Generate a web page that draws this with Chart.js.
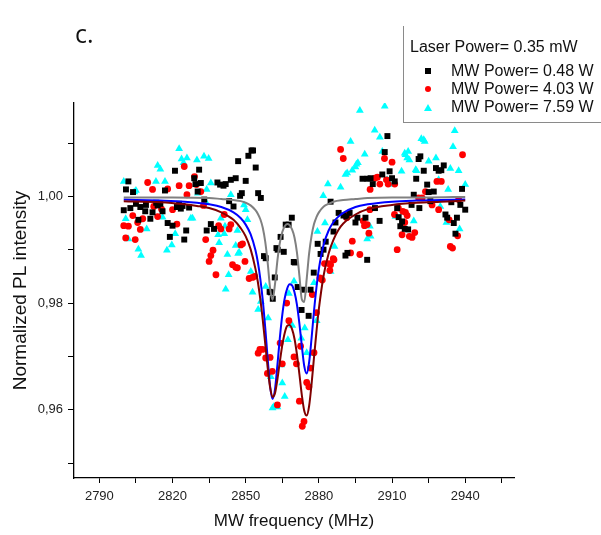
<!DOCTYPE html>
<html><head><meta charset="utf-8">
<script src="https://cdn.jsdelivr.net/npm/chart.js@4.4.0/dist/chart.umd.min.js"></script>
<style>
html,body{margin:0;padding:0;background:#fff;overflow:hidden;}
#wrap{position:relative;width:601px;height:535px;overflow:hidden;}
#panel{position:absolute;left:75px;top:19px;font:25px "Open Sans",sans-serif;color:#111;line-height:28px;}
#legend{position:absolute;left:403px;top:26px;width:260px;height:96px;border-left:1px solid #8a8a8a;border-bottom:1px solid #8a8a8a;font:16px "Liberation Sans",Arial,sans-serif;color:#111;}
.lt{position:absolute;left:6px;white-space:nowrap;line-height:18px;}
.li{position:absolute;left:47px;white-space:nowrap;line-height:18px;}
.mk{position:absolute;}
</style></head>
<body>
<div id="wrap">
<canvas id="c" width="601" height="535"></canvas>
<div id="panel">c.</div>
<div id="legend">
  <div class="lt" style="top:12px">Laser Power= 0.35 mW</div>
  <div class="mk" style="left:21px;top:42px;width:6px;height:6px;background:#000"></div>
  <div class="li" style="top:36px">MW Power= 0.48 W</div>
  <div class="mk" style="left:21px;top:60px;width:6px;height:6px;border-radius:50%;background:#f00"></div>
  <div class="li" style="top:54px">MW Power= 4.03 W</div>
  <div class="mk" style="left:20px;top:78px;width:0;height:0;border-left:4px solid transparent;border-right:4px solid transparent;border-bottom:7px solid #0ff"></div>
  <div class="li" style="top:72px">MW Power= 7.59 W</div>
</div>
</div>
<script>
// ---- Data ----
const blackFreq = [2800.0,2800.9,2801.9,2802.7,2803.8,2805.0,2806.0,2806.8,2808.8,2809.1,2810.9,2811.8,2813.3,2813.9,2815.0,2815.9,2816.9,2818.0,2818.9,2820.0,2821.0,2821.8,2822.7,2823.4,2824.1,2824.8,2825.6,2826.8,2828.9,2829.4,2830.3,2830.9,2831.6,2833.0,2834.0,2835.7,2837.0,2838.4,2839.5,2840.9,2841.8,2843.2,2843.9,2845.0,2845.9,2846.9,2847.7,2848.4,2850.0,2851.1,2852.4,2853.0,2854.1,2855.1,2856.2,2857.5,2858.2,2859.8,2860.3,2861.1,2861.9,2862.6,2863.1,2864.3,2865.6,2866.4,2867.6,2868.9,2869.7,2870.1,2871.3,2872.9,2873.8,2875.8,2876.6,2877.9,2879.5,2880.7,2881.9,2882.8,2884.8,2886.0,2886.8,2888.1,2890.1,2890.9,2891.3,2891.7,2892.6,2895.0,2895.8,2897.9,2899.1,2899.9,2899.8,2901.2,2902.1,2903.0,2904.9,2906.0,2907.0,2908.1,2909.0,2910.0,2911.1,2912.1,2912.7,2913.4,2914.1,2915.2,2916.6,2918.0,2918.9,2919.9,2920.9,2921.2,2921.6,2923.0,2924.4,2925.0,2925.7,2927.1,2928.0,2929.1,2930.2,2931.2,2931.9,2932.6,2934.3,2935.3,2936.0,2936.6,2938.0,2938.7,2940.0];
const blackVal = [0.9974,1.0013,1.0028,0.9978,1.0008,0.9986,0.9956,0.9980,0.9972,0.9984,0.9958,0.9970,0.9988,0.9983,0.9986,0.9972,1.0011,0.9950,0.9924,0.9945,1.0048,0.9980,0.9986,0.9977,0.9982,0.9919,0.9936,0.9979,1.0034,1.0023,1.0009,1.0050,1.0025,0.9994,0.9936,0.9948,0.9939,1.0026,1.0022,1.0020,1.0023,0.9991,1.0031,0.9981,1.0034,1.0066,1.0001,1.0006,1.0029,1.0076,1.0086,1.0086,1.0054,1.0006,0.9997,0.9888,0.9884,0.9821,0.9820,0.9808,0.9848,0.9903,0.9900,0.9924,0.9896,0.9947,0.9947,0.9960,0.9877,0.9876,0.9830,0.9787,0.9825,0.9776,0.9825,0.9857,0.9911,0.9892,0.9900,0.9915,0.9990,0.9934,0.9951,0.9969,0.9964,0.9889,0.9962,0.9894,0.9969,0.9951,0.9960,1.0033,0.9960,1.0033,0.9881,1.0034,1.0023,0.9978,0.9954,1.0041,1.0083,1.0113,1.0047,1.0034,1.0028,0.9978,0.9961,0.9944,0.9953,0.9939,0.9938,0.9984,1.0003,1.0033,1.0070,0.9978,1.0075,1.0048,1.0022,1.0008,0.9991,1.0009,1.0053,1.0048,1.0049,1.0058,0.9966,0.9960,0.9989,0.9950,0.9930,0.9960,0.9984,1.0014,0.9975];

const redFreq = [2800.0,2800.8,2801.9,2803.7,2804.7,2805.7,2806.8,2807.8,2809.8,2811.8,2812.3,2813.9,2815.5,2818.0,2820.0,2821.8,2822.7,2824.8,2825.9,2826.8,2829.0,2829.8,2831.6,2832.7,2833.6,2835.0,2835.7,2836.6,2837.8,2838.9,2839.8,2841.2,2843.2,2843.9,2844.6,2845.9,2846.6,2848.0,2848.7,2849.7,2851.4,2852.8,2853.7,2855.1,2855.8,2856.9,2858.2,2858.9,2860.0,2860.9,2863.0,2864.1,2865.0,2866.8,2867.7,2869.8,2870.8,2872.0,2872.5,2873.2,2873.9,2875.0,2875.9,2876.6,2877.3,2878.0,2879.0,2880.4,2880.7,2881.4,2882.3,2884.1,2884.5,2884.8,2885.9,2886.2,2888.9,2890.0,2891.4,2891.9,2893.0,2893.7,2896.8,2898.2,2898.7,2899.8,2900.5,2901.0,2900.9,2903.0,2904.0,2905.0,2906.9,2907.7,2908.4,2910.0,2911.0,2911.1,2912.1,2912.6,2914.1,2914.4,2915.2,2915.5,2916.2,2917.1,2918.2,2919.3,2920.9,2922.3,2923.7,2926.4,2928.4,2929.1,2930.2,2933.9,2933.4,2934.8,2936.9,2937.3,2938.9];
const redVal = [0.9945,0.9922,0.9944,0.9964,0.9919,0.9951,0.9938,0.9958,1.0026,1.0013,0.9981,0.9962,0.9976,1.0014,0.9975,0.9948,1.0020,1.0056,1.0003,1.0020,1.0037,1.0022,1.0009,0.9983,0.9919,0.9878,0.9889,0.9899,0.9853,0.9945,0.9939,0.9966,0.9939,0.9947,0.9872,0.9867,0.9866,0.9909,0.9911,0.9878,0.9846,0.9848,0.9850,0.9706,0.9713,0.9713,0.9697,0.9668,0.9698,0.9672,0.9609,0.9725,0.9686,0.9800,0.9767,0.9699,0.9686,0.9616,0.9719,0.9569,0.9578,0.9651,0.9643,0.9678,0.9816,0.9707,0.9782,0.9847,0.9846,0.9843,0.9874,0.9874,0.9861,0.9872,0.9883,0.9881,1.0088,1.0071,0.9960,0.9967,0.9894,0.9916,0.9891,0.9954,0.9945,0.9947,0.9931,1.0013,0.9975,1.0034,1.0036,1.0023,1.0071,1.0031,1.0023,1.0064,0.9966,1.0023,0.9900,0.9978,0.9928,0.9972,0.9951,0.9970,0.9964,0.9925,0.9923,0.9932,0.9997,0.9997,1.0009,0.9984,1.0028,0.9975,1.0028,0.9906,0.9956,0.9903,0.9926,0.9994,1.0078];

const cyanFreq = [2800.0,2800.8,2801.9,2804.3,2805.0,2806.0,2807.1,2809.4,2813.2,2813.9,2815.0,2815.9,2816.9,2817.7,2819.7,2821.1,2822.7,2823.7,2824.5,2825.9,2827.5,2828.2,2830.0,2830.4,2832.9,2834.0,2834.8,2835.7,2833.7,2839.1,2838.7,2839.8,2841.2,2841.8,2841.5,2842.5,2843.0,2843.9,2845.9,2846.6,2846.9,2847.3,2849.3,2850.0,2850.7,2852.1,2852.8,2855.1,2856.2,2858.2,2859.2,2860.3,2861.0,2861.6,2863.0,2864.6,2865.0,2866.0,2867.3,2867.7,2869.1,2869.8,2872.8,2874.2,2875.0,2875.5,2877.3,2878.0,2879.1,2879.4,2881.8,2882.5,2883.7,2884.8,2886.4,2888.9,2890.9,2891.6,2893.0,2893.7,2895.0,2895.4,2896.0,2896.8,2898.8,2899.8,2900.9,2901.2,2902.9,2905.0,2906.0,2907.0,2908.0,2909.3,2911.4,2913.9,2915.2,2915.5,2916.2,2916.6,2917.1,2918.9,2919.7,2920.0,2922.0,2923.0,2923.4,2925.0,2928.0,2929.1,2929.8,2932.3,2933.0,2933.9,2935.0,2935.7,2937.3,2937.7,2940.0];
const cyanVal = [1.0028,0.9958,0.9920,1.0008,1.0011,0.9901,0.9889,0.9939,1.0028,1.0058,1.0051,0.9961,1.0028,0.9899,0.9909,0.9930,1.0089,1.0070,1.0063,1.0072,0.9959,0.9959,1.0068,1.0006,1.0075,1.0013,1.0071,1.0025,0.9989,0.9913,0.9928,0.9959,0.9930,0.9826,0.9944,0.9891,0.9853,1.0003,0.9908,0.9936,0.9893,0.9895,0.9984,0.9975,0.9956,0.9859,0.9820,0.9788,0.9803,0.9831,0.9772,0.9662,0.9603,0.9606,0.9605,0.9684,0.9650,0.9625,0.9731,0.9818,0.9758,0.9841,0.9734,0.9753,0.9707,0.9650,0.9705,0.9838,0.9767,0.9934,1.0001,0.9950,1.0023,0.9859,0.9906,1.0017,1.0041,1.0044,1.0103,1.0049,1.0055,1.0060,1.0063,1.0161,1.0079,0.9920,0.9944,0.9925,1.0124,1.0111,1.0084,1.0169,1.0031,1.0022,0.9962,1.0047,1.0081,1.0078,1.0072,1.0084,1.0068,0.9954,1.0050,1.0048,1.0108,1.0106,1.0103,1.0066,1.0072,1.0031,0.9981,0.9951,1.0013,1.0052,1.0093,1.0123,1.0048,0.9939,1.0022];

// fitted curves
const grayFitFreq = [2800,2820,2835,2840,2845,2848,2850,2852,2854,2855,2856,2857,2858,2859,2860,2861,2862,2863,2864,2865,2866,2867,2868,2869,2870,2871,2872,2873,2874,2875,2876,2877,2878,2879,2880,2882,2884,2886,2890,2895,2900,2910,2925,2940];
const grayFitVal = [0.9998,0.9998,0.9997,0.9995,0.9993,0.9991,0.9988,0.9983,0.9974,0.9967,0.9957,0.9941,0.9915,0.9876,0.9828,0.9806,0.9835,0.9880,0.9913,0.9933,0.9944,0.9948,0.9946,0.9938,0.9923,0.9895,0.9852,0.9807,0.9802,0.9845,0.9893,0.9926,0.9948,0.9961,0.9970,0.9981,0.9986,0.9990,0.9993,0.9995,0.9997,0.9998,0.9998,0.9999];
const blueFitFreq = [2800,2815,2825,2830,2835,2840,2845,2848,2850,2852,2854,2855,2856,2857,2858,2859,2860,2861,2862,2863,2864,2865,2866,2867,2868,2869,2870,2871,2872,2873,2874,2875,2876,2877,2878,2879,2880,2882,2884,2886,2888,2890,2895,2900,2910,2920,2930,2940];
const blueFitVal = [0.9994,0.9992,0.9990,0.9988,0.9985,0.9980,0.9970,0.9959,0.9947,0.9929,0.9899,0.9876,0.9845,0.9805,0.9754,0.9696,0.9644,0.9620,0.9638,0.9684,0.9735,0.9778,0.9809,0.9827,0.9835,0.9833,0.9820,0.9797,0.9762,0.9720,0.9682,0.9668,0.9689,0.9734,0.9785,0.9829,0.9864,0.9910,0.9936,0.9952,0.9962,0.9969,0.9980,0.9985,0.9990,0.9992,0.9993,0.9994];
const brownFitFreq = [2800,2815,2825,2830,2835,2840,2845,2848,2850,2852,2854,2855,2856,2857,2858,2859,2860,2861,2862,2863,2864,2865,2866,2867,2868,2869,2870,2871,2872,2873,2874,2875,2876,2877,2878,2879,2880,2882,2884,2886,2888,2890,2895,2900,2910,2920,2930,2940];
const brownFitVal = [0.9991,0.9989,0.9985,0.9982,0.9978,0.9970,0.9956,0.9940,0.9925,0.9901,0.9864,0.9839,0.9807,0.9768,0.9724,0.9679,0.9642,0.9624,0.9631,0.9657,0.9690,0.9721,0.9744,0.9757,0.9759,0.9751,0.9733,0.9704,0.9667,0.9628,0.9598,0.9589,0.9607,0.9648,0.9698,0.9746,0.9789,0.9853,0.9893,0.9919,0.9937,0.9949,0.9966,0.9976,0.9984,0.9988,0.9990,0.9992];

const xTickStep = 15, yTickStep = 0.01;

const pts = (xs, ys) => xs.map((x, i) => ({x: x, y: ys[i]}));
const FONT = '"Liberation Sans", Arial, sans-serif';

new Chart(document.getElementById('c'), {
  type: 'scatter',
  data: {
    datasets: [
      {label: 'fit 0.48 W', data: pts(grayFitFreq, grayFitVal), showLine: true, borderColor: '#808080', borderWidth: 2, pointRadius: 0, cubicInterpolationMode: 'monotone', order: 0},
      {label: 'fit 4.03 W', data: pts(brownFitFreq, brownFitVal), showLine: true, borderColor: '#800000', borderWidth: 2, pointRadius: 0, cubicInterpolationMode: 'monotone', order: 0},
      {label: 'fit 7.59 W', data: pts(blueFitFreq, blueFitVal), showLine: true, borderColor: '#0000ff', borderWidth: 2, pointRadius: 0, cubicInterpolationMode: 'monotone', order: 0},
      {label: 'MW Power= 0.48 W', data: pts(blackFreq, blackVal), pointStyle: 'rect', pointRadius: 4.2, backgroundColor: '#000', borderWidth: 0, order: 1},
      {label: 'MW Power= 4.03 W', data: pts(redFreq, redVal), pointStyle: 'circle', pointRadius: 3.4, backgroundColor: '#ff0000', borderWidth: 0, order: 2},
      {label: 'MW Power= 7.59 W', data: pts(cyanFreq, cyanVal), pointStyle: 'triangle', pointRadius: 4.5, backgroundColor: '#00ffff', borderWidth: 0, order: 3}
    ]
  },
  options: {
    responsive: false,
    animation: false,
    devicePixelRatio: 1,
    layout: {padding: {left: 0, right: 87, top: 103, bottom: 0}},
    plugins: {legend: {display: false}, tooltip: {enabled: false}},
    scales: {
      x: {
        type: 'linear', min: 2779.6, max: 2960,
        afterFit: s => { s.height = 57; },
        ticks: {stepSize: xTickStep, includeBounds: false, autoSkip: false, maxRotation: 0, padding: 6, color: '#222',
          font: {family: FONT, size: 13},
          callback: v => (Math.round(v) % 30 === 0 ? String(Math.round(v)) : '')},
        grid: {drawOnChartArea: false, drawTicks: true, tickLength: 5, color: '#000', lineWidth: 1},
        border: {display: true, color: '#000', width: 1.3},
        title: {display: true, text: 'MW frequency (MHz)', color: '#111', font: {family: FONT, size: 17}, padding: {top: 0, bottom: 3}}
      },
      y: {
        type: 'linear', min: 0.9472, max: 1.0175,
        afterFit: s => { s.width = 74; },
        ticks: {stepSize: yTickStep, includeBounds: false, autoSkip: false, padding: 5, color: '#222',
          font: {family: FONT, size: 13},
          callback: v => (Math.round(v * 100) % 2 === 0 ? v.toFixed(2).replace('.', ',') : '')},
        grid: {drawOnChartArea: false, drawTicks: true, tickLength: 6, color: '#000', lineWidth: 1},
        border: {display: true, color: '#000', width: 1.3},
        title: {display: true, text: 'Normalized PL intensity', color: '#111', font: {family: FONT, size: 19}, padding: {top: 9, bottom: 0}}
      }
    }
  }
});
</script>
</body></html>
